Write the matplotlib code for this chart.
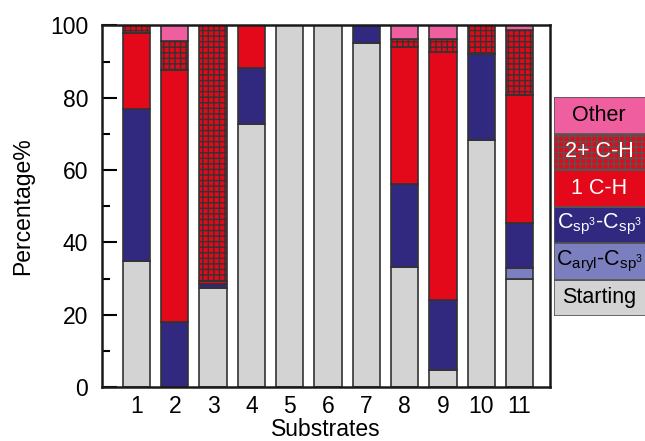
import numpy as np
import matplotlib
matplotlib.use("Agg")
import matplotlib.pyplot as plt

plt.rcParams['font.family'] = ['Liberation Sans', 'DejaVu Sans']
plt.rcParams['mathtext.fontset'] = 'custom'
plt.rcParams['mathtext.rm'] = 'Liberation Sans'
plt.rcParams['mathtext.it'] = 'Liberation Sans'
plt.rcParams['hatch.linewidth'] = 1.0
plt.rcParams['hatch.color'] = '#1a1a1a'

substrates = ['1', '2', '3', '4', '5', '6', '7', '8', '9', '10', '11']

# stacked from bottom to top
starting = [34.8, 0.0, 27.4, 72.8, 100.0, 100.0, 95.2, 33.2, 4.7, 68.2, 30.0]
c_aryl   = [0.0, 0.0, 0.0, 0.0, 0.0, 0.0, 0.0, 0.0, 0.0, 0.0, 3.0]
c_sp3    = [42.0, 18.0, 1.2, 15.4, 0.0, 0.0, 4.8, 22.9, 19.3, 24.0, 12.5]
one_ch   = [21.1, 69.6, 0.7, 11.8, 0.0, 0.0, 0.0, 37.9, 68.6, 0.0, 35.4]
two_ch   = [2.1, 8.1, 70.7, 0.0, 0.0, 0.0, 0.0, 2.3, 3.7, 7.8, 17.9]
other    = [0.0, 4.3, 0.0, 0.0, 0.0, 0.0, 0.0, 3.7, 3.7, 0.0, 1.2]

series = [starting, c_aryl, c_sp3, one_ch, two_ch, other]
colors = ['#d3d3d3', '#7b7fbf', '#31287f', '#e3091a', '#e3091a', '#ef5fa0']
hatches = [None, None, None, None, '+++', None]
legend_labels = ['Starting', r'C$_{\rm aryl}$-C$_{\rm sp^3}$', r'C$_{\rm sp^3}$-C$_{\rm sp^3}$',
                 '1 C-H', '2+ C-H', 'Other']
legend_text_colors = ['black', 'black', 'white', 'white', 'white', 'black']

fig = plt.figure(figsize=(6.45, 4.41), dpi=100)
ax = fig.add_axes([0.158, 0.1224, 0.695, 0.8198])

x = np.arange(1, len(substrates) + 1)
bottom = np.zeros(len(substrates))
for vals, c, h in zip(series, colors, hatches):
    vals = np.array(vals)
    ax.bar(x, vals, width=0.71, bottom=bottom, color=c, edgecolor='#333333',
           linewidth=1.2, hatch=h)
    bottom += vals

ax.set_xlim(0.1, 11.8)
ax.set_ylim(0, 100)
ax.set_xticks(x)
ax.set_xticklabels(substrates)
ax.set_yticks(np.arange(0, 101, 20))
ax.set_yticks(np.arange(10, 100, 20), minor=True)
ax.tick_params(axis='y', which='major', direction='in', length=10.5, width=1.5, labelsize=16.5, pad=10)
ax.tick_params(axis='y', which='minor', direction='in', length=6, width=1.5)
ax.tick_params(axis='x', length=0, labelsize=16.5, pad=6)
for s in ax.spines.values():
    s.set_linewidth(1.8)
    s.set_color('#1a1a1a')
ax.set_xlabel('Substrates', fontsize=16.5, labelpad=0)
ax.set_ylabel('Percentage%', fontsize=16.5, labelpad=11)

# legend drawn as stacked cells to the right
lax = fig.add_axes([554 / 645, (441 - 316) / 441, 100 / 645, 219 / 441])
lax.set_xlim(0, 1)
lax.set_ylim(0, 6)
lax.axis('off')
for i, (lab, c, h, tc) in enumerate(zip(legend_labels, colors, hatches, legend_text_colors)):
    lax.bar(0.5, 1, width=1, bottom=i, color=c, edgecolor='#555555', linewidth=1.2, hatch=h)
    lax.text(0.45, i + 0.5, lab, ha='center', va='center', fontsize=15.5, color=tc)

fig.savefig('out.png', dpi=100)
